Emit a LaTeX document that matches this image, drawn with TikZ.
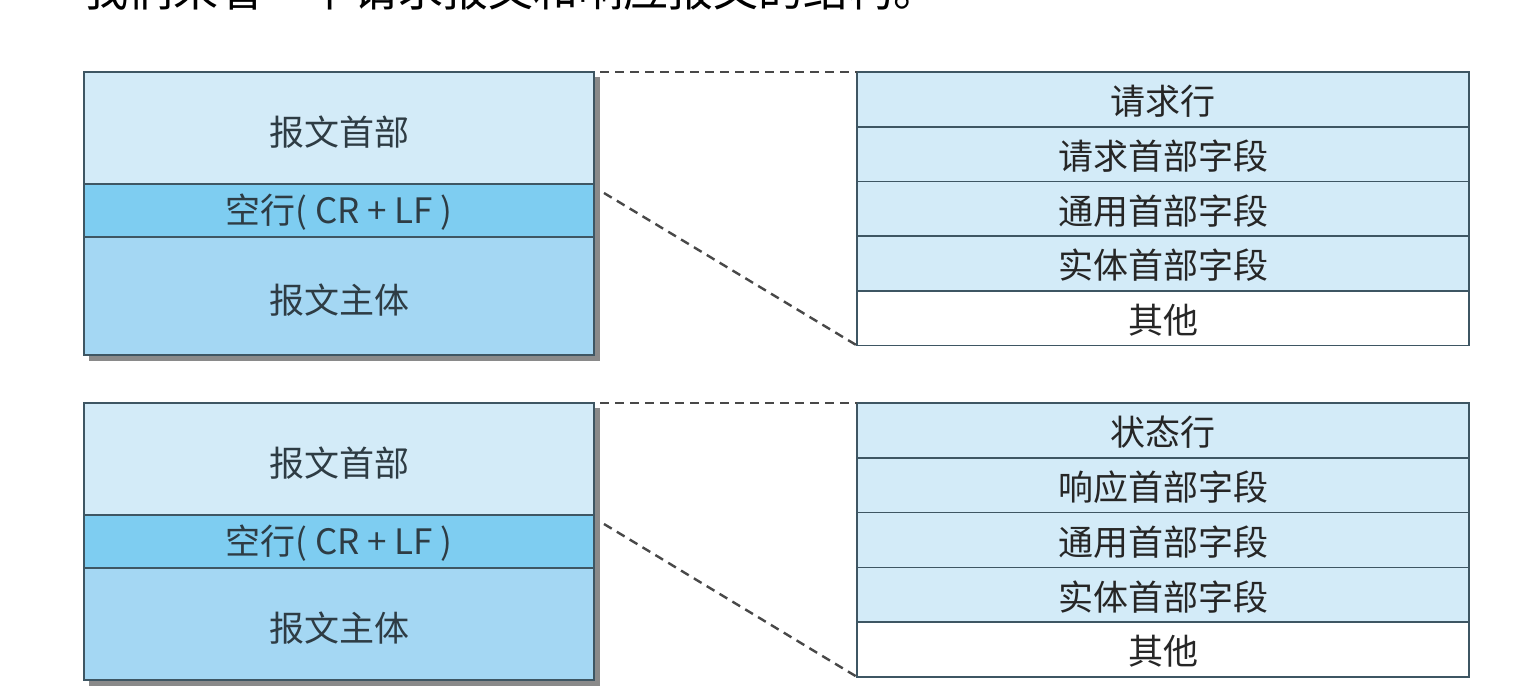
\documentclass[tikz,border=0pt]{standalone}
\usepackage{fontspec}
\newfontfamily\cjk{Noto Sans CJK SC}
\begin{document}
\begin{tikzpicture}[x=1pt,y=-1pt,
  every node/.style={inner sep=0pt,outer sep=0pt,font=\cjk\fontsize{35}{42}\selectfont},
  cell/.style={draw=bordercol,line width=1.6pt,anchor=north west,text=txtcol},
  hdr/.style={cell,fill=hdrcol,minimum width=510pt},
  blank/.style={cell,fill=blankcol,minimum width=510pt},
  body/.style={cell,fill=bodycol,minimum width=510pt},
  field/.style={cell,fill=hdrcol,minimum width=612pt,minimum height=54.7pt,text=fldtxt},
  other/.style={field,fill=white},
  lbl/.style={inner sep=0pt,text=txtcol},
  flbl/.style={inner sep=0pt,text=fldtxt},
  shadowbox/.style={fill=shadowcol},
  zoomline/.style={draw=dashcol,line width=2.4pt,dash pattern=on 9pt off 6pt}
]
\definecolor{bordercol}{HTML}{3E5663}
\definecolor{hdrcol}{HTML}{D3EBF8}
\definecolor{blankcol}{HTML}{7ECDF1}
\definecolor{bodycol}{HTML}{A4D7F3}
\definecolor{txtcol}{HTML}{2E3C44}
\definecolor{fldtxt}{HTML}{262626}
\definecolor{shadowcol}{HTML}{8A8A8A}
\definecolor{dashcol}{HTML}{484848}
\useasboundingbox (0,0) rectangle (1533,699);
\clip (0,0) rectangle (1533,699);
\fill[white] (0,0) rectangle (1533,699);

% cut-off caption at the top
\node[anchor=base west,font=\cjk\fontsize{45}{50}\selectfont,text=black] (cap) at (83,6) {我们来看一下请求报文和响应报文的结构。};

% ---------- request message ----------
\fill[shadowbox] (89,77) rectangle (600,361);
\node[hdr,minimum height=112pt] (h1) at (84,72) {};
\node[blank,minimum height=53pt] (b1) at (84,184) {};
\node[body,minimum height=118pt] (m1) at (84,237) {};
\node[lbl] (h1t) at ([yshift=-4pt]h1.center) {报文首部};
\node[lbl] (b1t) at ([yshift=-2pt]b1.center) {空行( CR + LF )};
\node[lbl] (m1t) at ([yshift=-4pt]m1.center) {报文主体};

\node[field] (r1a) at (857,72) {};
\node[field] (r1b) at (857,126.7) {};
\node[field] (r1c) at (857,181.4) {};
\node[field] (r1d) at (857,236.1) {};
\node[other] (r1e) at (857,290.8) {};
\node[flbl] (r1at) at ([yshift=-2pt]r1a.center) {请求行};
\node[flbl] (r1bt) at ([yshift=-2pt]r1b.center) {请求首部字段};
\node[flbl] (r1ct) at ([yshift=-2pt]r1c.center) {通用首部字段};
\node[flbl] (r1dt) at ([yshift=-2pt]r1d.center) {实体首部字段};
\node[flbl] (r1et) at ([yshift=-2pt]r1e.center) {其他};

\coordinate (t1) at (600,72);
\coordinate (s1) at (604,193);
\draw[zoomline] (t1) -- (r1a.north west);
\draw[zoomline] (s1) -- (r1e.south west);

% ---------- response message ----------
\fill[shadowbox] (89,408) rectangle (600,686);
\node[hdr,minimum height=112pt] (h2) at (84,403) {};
\node[blank,minimum height=53pt] (b2) at (84,515) {};
\node[body,minimum height=112pt] (m2) at (84,568) {};
\node[lbl] (h2t) at ([yshift=-4pt]h2.center) {报文首部};
\node[lbl] (b2t) at ([yshift=-2pt]b2.center) {空行( CR + LF )};
\node[lbl] (m2t) at ([yshift=-4pt]m2.center) {报文主体};

\node[field] (r2a) at (857,403) {};
\node[field] (r2b) at (857,457.8) {};
\node[field] (r2c) at (857,512.6) {};
\node[field] (r2d) at (857,567.4) {};
\node[other] (r2e) at (857,622.2) {};
\node[flbl] (r2at) at ([yshift=-2pt]r2a.center) {状态行};
\node[flbl] (r2bt) at ([yshift=-2pt]r2b.center) {响应首部字段};
\node[flbl] (r2ct) at ([yshift=-2pt]r2c.center) {通用首部字段};
\node[flbl] (r2dt) at ([yshift=-2pt]r2d.center) {实体首部字段};
\node[flbl] (r2et) at ([yshift=-2pt]r2e.center) {其他};

\coordinate (t2) at (600,403);
\coordinate (s2) at (604,524);
\draw[zoomline] (t2) -- (r2a.north west);
\draw[zoomline] (s2) -- (r2e.south west);
\end{tikzpicture}
\end{document}
